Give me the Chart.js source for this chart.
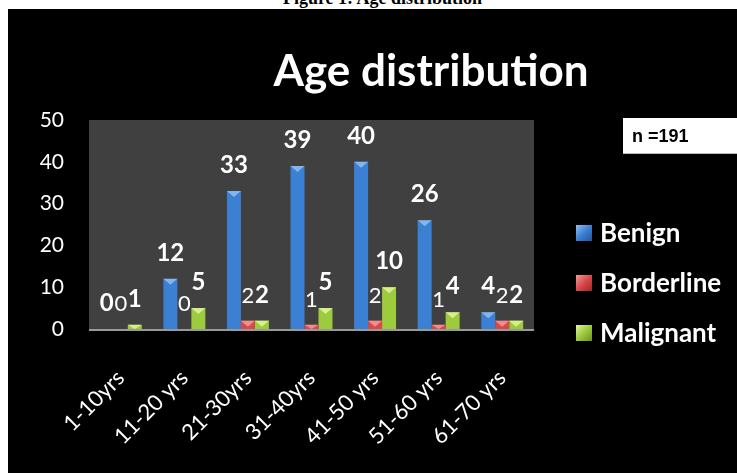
<!DOCTYPE html>
<html>
<head>
<meta charset="utf-8">
<script src="https://cdn.jsdelivr.net/npm/chart.js@4/dist/chart.umd.min.js"></script>
<style>
  html, body { margin: 0; padding: 0; background: #fff; overflow: hidden; }
  #caption {
    position: absolute; left: 0; width: 765px; top: -12px;
    text-align: center; font: bold 18px "Liberation Serif", serif; color: #000;
  }
  #wrap { position: absolute; left: 0; top: 0; width: 737px; height: 473px; }
</style>
</head>
<body>
<div id="caption">Figure 1: Age distribution</div>
<div id="wrap"><canvas id="chart" width="737" height="473"></canvas></div>
<script>
// --- data ---
const ageGroups = ["1-10yrs", "11-20 yrs", "21-30yrs", "31-40yrs", "41-50 yrs", "51-60 yrs", "61-70 yrs"];
const benign = [0, 12, 33, 39, 40, 26, 4];
const borderline = [0, 0, 2, 1, 2, 1, 2];
const malignant = [1, 5, 2, 5, 10, 4, 2];
const yTicks = [0, 10, 20, 30, 40, 50];
const sampleNote = "n =191";

// colours: [edge, middle, bevel]
const seriesColors = {
  Benign: ["#24559a", "#3b80d2", "#8fc0f2"],
  Borderline: ["#9a2a28", "#d8494a", "#f29a9a"],
  Malignant: ["#6e8e26", "#9ccb3e", "#e2f59a"]
};

const FONT = "Lato, 'Open Sans', sans-serif";

function barGradient(ctx, name) {
  const bar = ctx.element;
  const c = seriesColors[name];
  if (!bar || bar.x === undefined || isNaN(bar.width)) return c[1];
  const g = ctx.chart.ctx.createLinearGradient(bar.x - bar.width / 2, 0, bar.x + bar.width / 2, 0);
  g.addColorStop(0, c[0]);
  g.addColorStop(0.45, c[1]);
  g.addColorStop(1, c[0]);
  return g;
}

// background, plot area, title, n box, legend
const backdrop = {
  id: "backdrop",
  beforeDraw(chart) {
    const { ctx, chartArea: a } = chart;
    ctx.save();
    ctx.fillStyle = "#000";
    ctx.fillRect(8, 9, chart.width - 8, chart.height - 9);
    ctx.fillStyle = "#404040";
    ctx.fillRect(a.left, a.top, a.right - a.left, a.bottom - a.top);
    ctx.restore();
  },
  afterDraw(chart) {
    const { ctx, chartArea: a } = chart;
    ctx.save();
    // bottom axis line
    ctx.strokeStyle = "#9a9a9a";
    ctx.lineWidth = 2;
    ctx.beginPath();
    ctx.moveTo(a.left, a.bottom + 1);
    ctx.lineTo(a.right, a.bottom + 1);
    ctx.stroke();

    // title (ZWNJ keeps the "ti" from turning into a ligature)
    ctx.fillStyle = "#fff";
    ctx.font = "bold 44px " + FONT;
    ctx.textAlign = "center";
    ctx.textBaseline = "alphabetic";
    ctx.fillText("Age distribu\u200Ction", 431, 86);

    // n box
    ctx.fillStyle = "#fff";
    ctx.fillRect(623, 118, 114, 36);
    ctx.fillStyle = "#bbb";
    ctx.fillRect(623, 153, 114, 1);
    ctx.fillStyle = "#000";
    ctx.font = "bold 18px 'Liberation Sans Narrow', 'Liberation Sans', sans-serif";
    ctx.textAlign = "left";
    ctx.textBaseline = "middle";
    ctx.fillText(sampleNote, 632, 137);

    // legend
    ctx.font = "bold 26px " + FONT;
    chart.data.datasets.forEach((ds, i) => {
      const y = 233 + i * 50;
      const c = seriesColors[ds.label];
      const g = ctx.createLinearGradient(576, y - 8, 592, y + 8);
      g.addColorStop(0, c[2]);
      g.addColorStop(0.5, c[1]);
      g.addColorStop(1, c[0]);
      ctx.fillStyle = g;
      ctx.fillRect(576, y - 8, 16, 16);
      ctx.fillStyle = "#fff";
      ctx.fillText(ds.label, 600, y + 1);
    });
    ctx.restore();
  }
};

// value labels and bevel tops
const barLabels = {
  id: "barLabels",
  afterDatasetsDraw(chart) {
    const ctx = chart.ctx;
    ctx.save();
    chart.data.datasets.forEach((ds, i) => {
      const meta = chart.getDatasetMeta(i);
      const c = seriesColors[ds.label];
      meta.data.forEach((bar, j) => {
        const h = bar.base - bar.y;
        if (h > 2) {
          const w = bar.width;
          const t = Math.min(6, h);
          ctx.fillStyle = c[2];
          ctx.globalAlpha = 0.85;
          ctx.beginPath();
          ctx.moveTo(bar.x - w / 2, bar.y);
          ctx.lineTo(bar.x + w / 2, bar.y);
          ctx.lineTo(bar.x, bar.y + t);
          ctx.closePath();
          ctx.fill();
          ctx.globalAlpha = 1;
        }
        ctx.fillStyle = "#fff";
        ctx.textAlign = "center";
        ctx.textBaseline = "alphabetic";
        ctx.font = (ds.label === "Borderline" ? "22px " : "bold 24px ") + FONT;
        ctx.fillText(String(ds.data[j]), bar.x, bar.y - 18);
      });
    });
    ctx.restore();
  }
};

new Chart(document.getElementById("chart"), {
  type: "bar",
  data: {
    labels: ageGroups,
    datasets: [
      { label: "Benign", data: benign, backgroundColor: ctx => barGradient(ctx, "Benign") },
      { label: "Borderline", data: borderline, backgroundColor: ctx => barGradient(ctx, "Borderline") },
      { label: "Malignant", data: malignant, backgroundColor: ctx => barGradient(ctx, "Malignant") }
    ]
  },
  options: {
    responsive: false,
    animation: false,
    layout: { padding: { left: 20, top: 120, right: 203, bottom: 0 } },
    categoryPercentage: 0.66,
    barPercentage: 1.0,
    plugins: {
      legend: { display: false },
      title: { display: false },
      tooltip: { enabled: false }
    },
    scales: {
      x: {
        grid: { display: false, drawTicks: false },
        border: { display: false },
        ticks: {
          color: "#fff",
          font: { family: FONT, size: 22 },
          minRotation: 45,
          maxRotation: 45,
          padding: 36
        },
        afterFit(s) { s.height = 144; }
      },
      y: {
        min: 0,
        max: 50,
        afterBuildTicks(s) { s.ticks = yTicks.map(v => ({ value: v })); },
        grid: { display: false, drawTicks: false },
        border: { display: false },
        ticks: {
          color: "#fff",
          font: { family: FONT, size: 21 },
          padding: 25
        },
        afterFit(s) { s.width = 69; }
      }
    }
  },
  plugins: [backdrop, barLabels]
});
</script>
</body>
</html>
